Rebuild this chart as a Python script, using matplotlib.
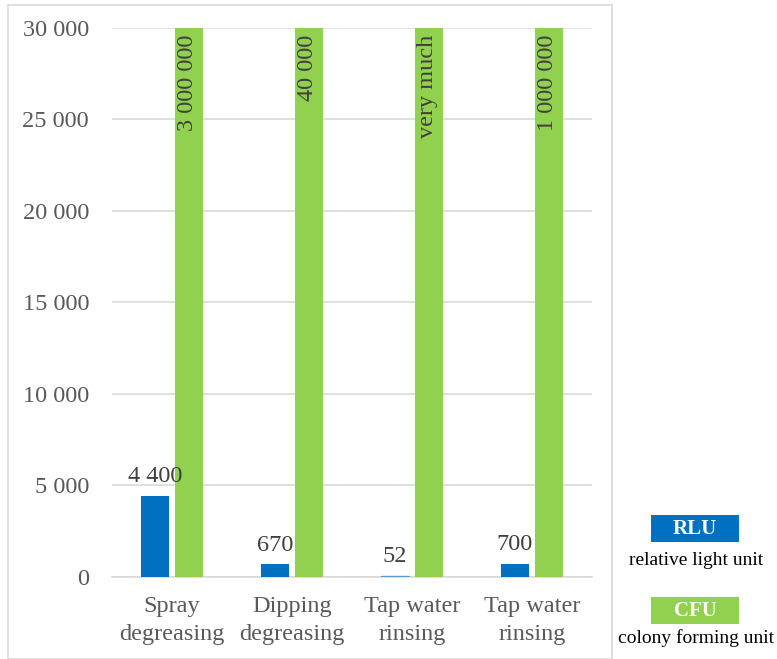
import numpy as np
import matplotlib.pyplot as plt
from matplotlib.patches import Rectangle

plt.rcParams['font.family'] = ['Liberation Serif', 'DejaVu Serif']

# treatment steps and measurements
categories = ['Spray\ndegreasing', 'Dipping\ndegreasing', 'Tap water\nrinsing', 'Tap water\nrinsing']
rlu_values = [4400, 670, 52, 700]
rlu_labels = ['4 400', '670', '52', '700']
cfu_values = [3000000, 40000, None, 1000000]   # None = too many to count
cfu_labels = ['3 000 000', '40 000', 'very much', '1 000 000']
y_ticks = [0, 5000, 10000, 15000, 20000, 25000, 30000]
y_ticklabels = ['0', '5 000', '10 000', '15 000', '20 000', '25 000', '30 000']

BLUE = '#0070C0'
GREEN = '#92D050'
GRID = '#d9d9d9'
TEXT = '#595959'

ymax = y_ticks[-1]

fig = plt.figure(figsize=(7.77, 6.59), dpi=100)

# outer chart frame
fig.add_artist(Rectangle((8 / 777, 0), 604 / 777, 1 - 5 / 659, transform=fig.transFigure,
                         fill=False, edgecolor=GRID, lw=1.2))

ax = fig.add_axes([112 / 777, 1 - 576.7 / 659, 480 / 777, (576.7 - 28) / 659])

x = np.arange(len(categories))
width = 0.235
offset = 0.142

# the CFU bars run off the top of the scale, so cut them at the axis limit
cfu_heights = [ymax if v is None else min(v, ymax) for v in cfu_values]

rlu_bars = ax.bar(x - offset, rlu_values, width, color=BLUE, zorder=3)
rlu_bars[2].set_color('#5b9bd5')
ax.bar(x + offset, cfu_heights, width, color=GREEN, zorder=3)

for xi, v, lab in zip(x, rlu_values, rlu_labels):
    ax.annotate(lab, (xi - offset, v), xytext=(0, 10), textcoords='offset points',
                ha='center', va='baseline', fontsize=17.5, color='#404040')

for xi, h, lab in zip(x, cfu_heights, cfu_labels):
    ax.annotate(lab, (xi + offset - 0.01, h), xytext=(0, -5), textcoords='offset points',
                ha='center', va='top', rotation=90, fontsize=17.5, color='#404040')

ax.set_xlim(-0.5, len(categories) - 0.5)
ax.set_ylim(0, ymax)
ax.set_yticks(y_ticks)
ax.set_yticklabels(y_ticklabels)
ax.set_xticks(x)
ax.set_xticklabels(categories, linespacing=1.4)
ax.tick_params(axis='both', length=0, labelsize=17.5, labelcolor=TEXT)
ax.tick_params(axis='y', pad=16.5)
ax.tick_params(axis='x', pad=14)

ax.grid(axis='y', color=GRID, lw=1.2, zorder=0)
for side in ['top', 'right', 'left']:
    ax.spines[side].set_visible(False)
ax.spines['bottom'].set_color(GRID)
ax.spines['bottom'].set_linewidth(1.2)

# unit legend on the right
def unit_key(top_px, color, abbr, desc, desc_base_px):
    fig.add_artist(Rectangle((651 / 777, 1 - (top_px + 27) / 659), 88 / 777, 27 / 659,
                             transform=fig.transFigure, facecolor=color, edgecolor='none'))
    fig.text(695 / 777, 1 - (top_px + 13.5) / 659, abbr, ha='center', va='center',
             color='white', fontsize=15, fontweight='bold')
    fig.text(696 / 777, 1 - desc_base_px / 659, desc, ha='center', va='baseline',
             color='black', fontsize=14)

unit_key(515, BLUE, 'RLU', 'relative light unit', 565)
unit_key(597, GREEN, 'CFU', 'colony forming unit', 643)

fig.savefig('out.png', dpi=100)
